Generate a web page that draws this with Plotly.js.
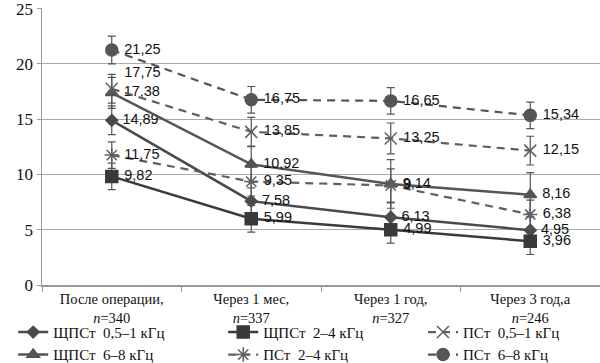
<!DOCTYPE html>
<html><head><meta charset="utf-8">
<script src="https://cdn.plot.ly/plotly-3.0.1.min.js"></script>
<style>html,body{margin:0;padding:0;background:#fff}#c{width:600px;height:363px}</style>
</head><body><div id="c"></div>
<script>
const categories = ["После операции,<br><i>n</i>=340", "Через 1 мес,<br><i>n</i>=337", "Через 1 год,<br><i>n</i>=327", "Через 3 год,а<br><i>n</i>=246"];
const seriesNames = ["ЩПСт  0,5–1 кГц", "ЩПСт  2–4 кГц", "ПСт  0,5–1 кГц", "ЩПСт  6–8 кГц", "ПСт  2–4 кГц", "ПСт  6–8 кГц"];
const shps05 = [14.89, 7.58, 6.13, 4.95];
const shps24 = [9.82, 5.99, 4.99, 3.96];
const ps05 = [17.75, 13.85, 13.25, 12.15];
const shps68 = [17.38, 10.92, 9.14, 8.16];
const ps24 = [11.75, 9.35, 9, 6.38];
const ps68 = [21.25, 16.75, 16.65, 15.34];
const err_shps05 = [1.3, 1.2, 1.3, 1.2];
const err_shps24 = [1.2, 1.2, 1.2, 1.2];
const err_ps05 = [1.3, 1.3, 1.4, 1.3];
const err_shps68 = [1.4, 1.6, 2.2, 2.0];
const err_ps24 = [1.2, 1.3, 1.5, 1.3];
const err_ps68 = [1.25, 1.2, 1.2, 1.2];

const fmt = v => Number.isInteger(v) ? String(v) : v.toFixed(2).replace('.', ',');
const dark = '#4a4a4a', mid = '#5f5f5f';
function tr(name, y, err, symbol, size, dash, color, leg, tpos) {
  return {
    type: 'scatter', mode: 'lines+markers+text', name: name, legend: leg,
    x: categories, y: y, text: y.map(v => ' ' + fmt(v)), textposition: tpos || 'middle right',
    textfont: {family: 'Liberation Sans, Arial, sans-serif', size: 14.5, color: '#111'},
    cliponaxis: false,
    line: {color: color, width: dash === 'solid' ? 2.5 : 2.2, dash: dash === 'solid' ? 'solid' : '8px,6px'},
    marker: {symbol: symbol, size: size, color: color, line: {color: color, width: 1.5}},
    error_y: {type: 'data', array: err, visible: true, color: '#555', thickness: 1.2, width: 4}
  };
}
const data = [
  tr(seriesNames[0], shps05, err_shps05, 'diamond', 9, 'solid', dark, 'legend'),
  tr(seriesNames[3], shps68, err_shps68, 'triangle-up', 11, 'solid', '#555', 'legend'),
  tr(seriesNames[1], shps24, err_shps24, 'square', 12, 'solid', '#3a3a3a', 'legend2'),
  tr(seriesNames[4], ps24, err_ps24, 'asterisk-open', 12, 'dash', mid, 'legend2'),
  tr(seriesNames[2], ps05, err_ps05, 'x-thin-open', 12, 'dash', mid, 'legend3', ['top right', 'middle right', 'middle right', 'middle right']),
  tr(seriesNames[5], ps68, err_ps68, 'circle', 12, 'dash', '#555', 'legend3')
];
const legFont = {family: 'Liberation Serif, Times New Roman, serif', size: 15, color: '#111'};
function leg(x) {
  return {orientation: 'v', xref: 'container', yref: 'container', x: x, y: 0.13, yanchor: 'top', xanchor: 'left',
    bgcolor: 'rgba(0,0,0,0)', tracegroupgap: 0, itemwidth: 30, traceorder: 'normal', font: legFont};
}
const layout = {
  width: 600, height: 363,
  margin: {l: 42, r: 0, t: 8, b: 78, autoexpand: false},
  paper_bgcolor: '#fff', plot_bgcolor: '#fff',
  showlegend: true,
  legend: leg(0.022), legend2: leg(0.372), legend3: leg(0.705),
  xaxis: {type: 'category', range: [-0.5, 3.5], automargin: false, showgrid: false, showline: true, linecolor: '#999', linewidth: 1.5,
    ticks: 'outside', ticklen: 5, tickcolor: '#999', tickson: 'boundaries', tickangle: 0,
    tickfont: {family: 'Liberation Serif, Times New Roman, serif', size: 14.5, color: '#111'}},
  yaxis: {range: [0, 25.05], automargin: false, tickvals: [0, 5, 10, 15, 20, 25], ticklabeloverflow: 'allow', showgrid: true, gridcolor: '#aaa', gridwidth: 1.2, showline: true, linecolor: '#999', linewidth: 1.5,
    ticks: 'outside', ticklen: 4, tickcolor: '#999', zeroline: false,
    tickfont: {family: 'Liberation Serif, Times New Roman, serif', size: 17, color: '#111'}}
};
Plotly.newPlot('c', data, layout, {displayModeBar: false, staticPlot: true});
</script></body></html>
